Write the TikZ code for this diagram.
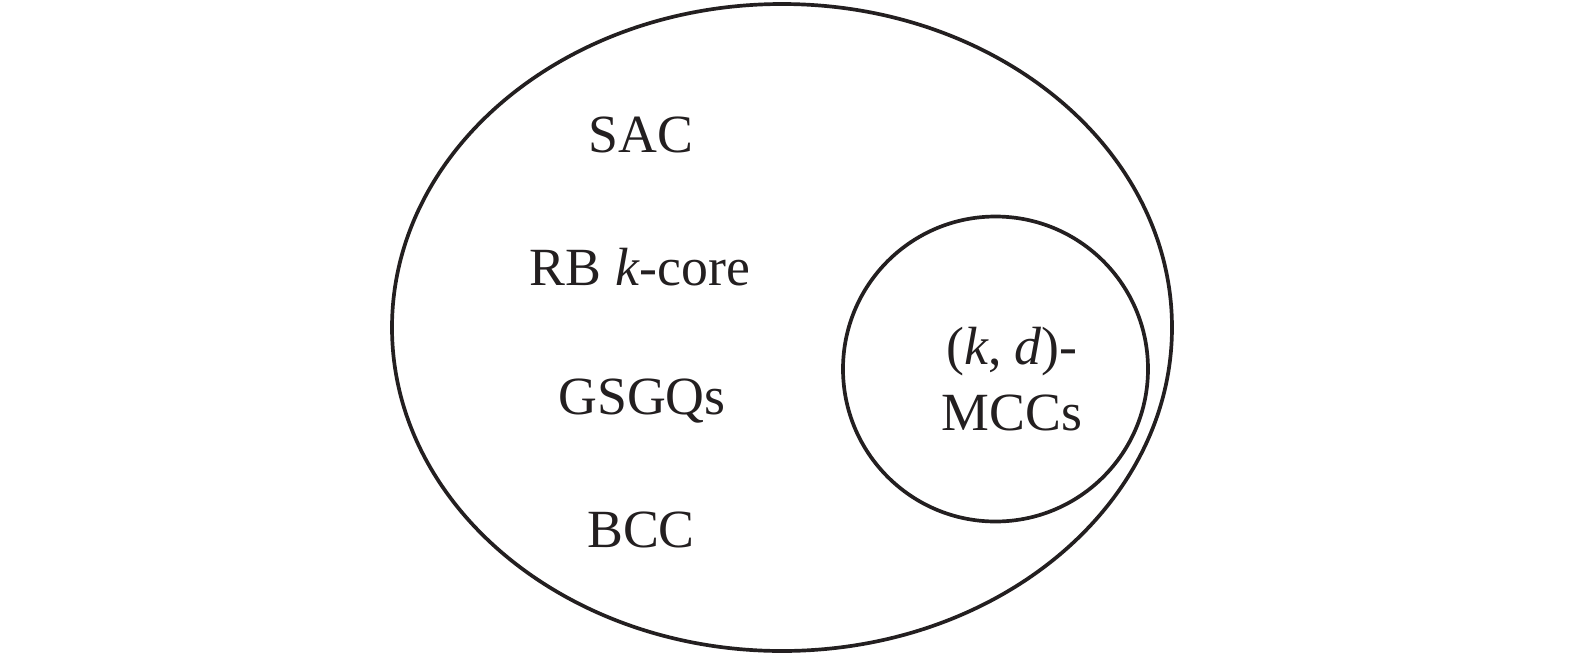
\documentclass[tikz,border=0pt]{standalone}
\usepackage{fontspec}
\setmainfont{Liberation Serif}
\definecolor{inkgray}{HTML}{231F20}
\tikzset{
    setline/.style={draw=inkgray, line width=1.05pt},
    setlabel/.style={text=inkgray, font=\fontsize{15.3}{18.5}\selectfont, inner sep=0pt, anchor=base},
    common settings/.style={x=1cm, y=1cm}
}

\begin{document}
\begin{tikzpicture}[common settings]

    \useasboundingbox (0,0) rectangle (15.75,6.57);

    \def\rx{3.90}  % outer half width
    \def\ry{3.235} % outer half height
    \def\r{1.525}  % inner radius

    % Outer set
    \draw[setline] (7.82,3.295) ellipse [x radius=\rx, y radius=\ry];

    % Inner set
    \draw[setline] (9.955,2.88) circle (\r);

    % Labels of the outer set
    \node[setlabel] (sac) at (6.41,5.05) {SAC};
    \node[setlabel] (rbcore) at (6.40,3.72) {RB \textit{k}-core};
    \node[setlabel] (gsgq) at (6.42,2.43) {GSGQs};
    \node[setlabel] (bcc) at (6.41,1.10) {BCC};

    % Label of the inner set (base is the last line)
    \node[setlabel, align=center] (mcc) at (10.12,2.27) {(\textit{k}, \textit{d})-\\MCCs};

\end{tikzpicture}
\end{document}
